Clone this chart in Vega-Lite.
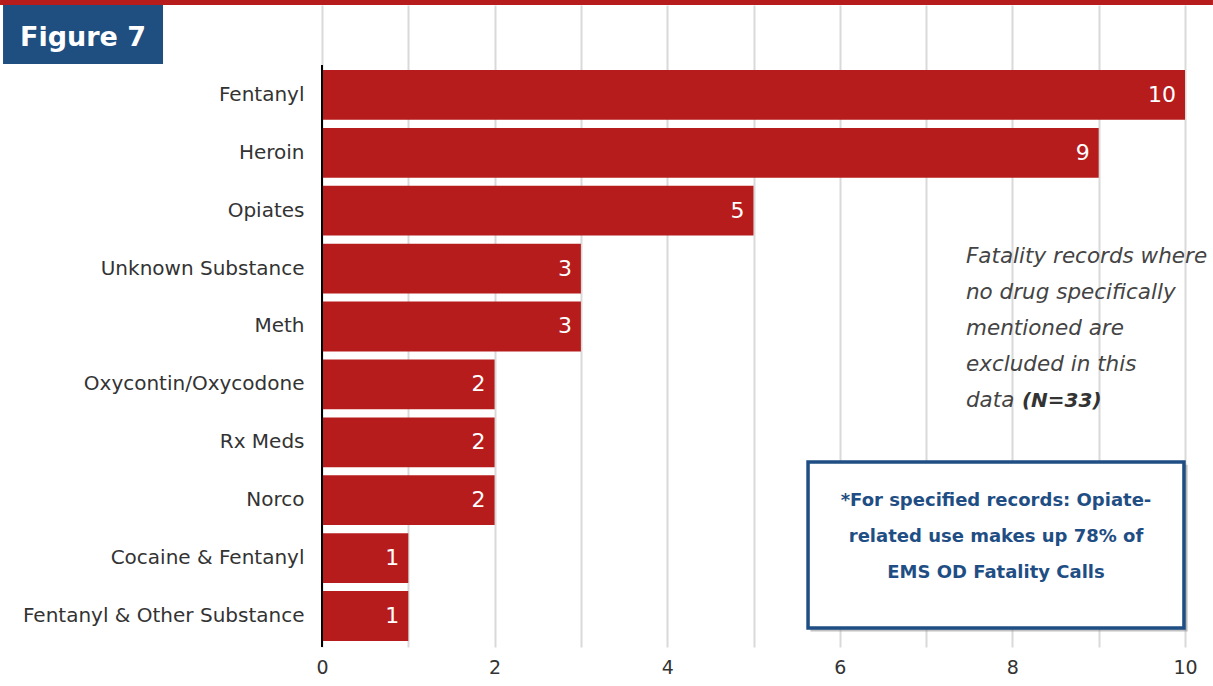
{
  "$schema": "https://vega.github.io/schema/vega-lite/v6.json",
  "width": 863,
  "height": 642,
  "autosize": {"type": "none"},
  "padding": {"left": 322, "top": 5, "right": 28, "bottom": 39},
  "background": "white",
  "config": {"view": {"stroke": null}, "font": "DejaVu Sans"},
  "datasets": {
    "bars": [
      {"substance": "Fentanyl", "count": 10},
      {"substance": "Heroin", "count": 9},
      {"substance": "Opiates", "count": 5},
      {"substance": "Unknown Substance", "count": 3},
      {"substance": "Meth", "count": 3},
      {"substance": "Oxycontin/Oxycodone", "count": 2},
      {"substance": "Rx Meds", "count": 2},
      {"substance": "Norco", "count": 2},
      {"substance": "Cocaine & Fentanyl", "count": 1},
      {"substance": "Fentanyl & Other Substance", "count": 1}
    ],
    "shapes": [
      {"kind": "redline", "x1": -3.731, "x2": 10.324, "y1": -0.78, "y2": 0},
      {"kind": "figbox", "x1": -3.696, "x2": -1.842, "y1": 0, "y2": 9.19},
      {"kind": "shadow", "x1": 5.66, "x2": 10.03, "y1": 71.6, "y2": 97.6},
      {"kind": "notebox", "x1": 5.632, "x2": 9.988, "y1": 71.18, "y2": 97.04}
    ],
    "axisline": [{"x": 0, "y1": 9.35, "y2": 100}],
    "italic": [
      {"text": "Fatality records where", "x": 7.462, "y": 39.25},
      {"text": "no drug specifically", "x": 7.462, "y": 44.86},
      {"text": "mentioned are", "x": 7.462, "y": 50.47},
      {"text": "excluded in this", "x": 7.462, "y": 56.07},
      {"text": "data", "x": 7.462, "y": 61.68}
    ],
    "nbold": [{"text": "(N=33)", "x": 8.111, "y": 61.68}],
    "boxtext": [
      {"text": "*For specified records: Opiate-", "x": 7.81, "y": 77.26},
      {"text": "related use makes up 78% of", "x": 7.81, "y": 82.87},
      {"text": "EMS OD Fatality Calls", "x": 7.81, "y": 88.47}
    ],
    "figtext": [{"text": "Figure 7", "x": -2.769, "y": 5.14}]
  },
  "layer": [
    {
      "data": {"name": "bars"},
      "layer": [
        {
          "mark": {"type": "bar", "color": "#B71C1C"},
          "encoding": {
            "y": {
              "field": "substance", "type": "nominal", "sort": null,
              "scale": {"paddingInner": 0.14, "paddingOuter": 0.614, "align": 0.914},
              "axis": {"title": null, "ticks": false, "domain": false, "labelPadding": 18, "labelFontSize": 20, "labelLimit": 400, "labelColor": "#333333", "labelFont": "DejaVu Sans"}
            },
            "x": {
              "field": "count", "type": "quantitative",
              "scale": {"domain": [0, 10], "nice": false},
              "axis": {"title": null, "values": [0, 1, 2, 3, 4, 5, 6, 7, 8, 9, 10], "format": "d", "labelExpr": "datum.value % 2 == 0 ? datum.label : ''", "labelFlush": false, "ticks": false, "domain": false, "labelPadding": 11, "labelFontSize": 19, "labelColor": "#333333", "labelFont": "DejaVu Sans", "grid": true, "gridColor": "#D9D9D9", "gridWidth": 2}
            }
          }
        },
        {
          "mark": {"type": "text", "align": "right", "baseline": "middle", "dx": -9, "color": "white", "fontSize": 22, "font": "DejaVu Sans"},
          "encoding": {
            "y": {"field": "substance", "type": "nominal", "sort": null},
            "x": {"field": "count", "type": "quantitative"},
            "text": {"field": "count", "type": "quantitative"}
          }
        }
      ]
    },
    {
      "data": {"name": "shapes"},
      "transform": [{"filter": "datum.kind == 'redline'"}],
      "mark": {"type": "rect", "color": "#B71C1C"},
      "encoding": {
        "x": {"field": "x1", "type": "quantitative"},
        "x2": {"field": "x2"},
        "y": {"field": "y1", "type": "quantitative", "scale": {"domain": [0, 100], "reverse": true, "nice": false}, "axis": null},
        "y2": {"field": "y2"}
      }
    },
    {
      "data": {"name": "shapes"},
      "transform": [{"filter": "datum.kind == 'figbox'"}],
      "mark": {"type": "rect", "color": "#1F4E80"},
      "encoding": {
        "x": {"field": "x1", "type": "quantitative"},
        "x2": {"field": "x2"},
        "y": {"field": "y1", "type": "quantitative", "scale": {"domain": [0, 100], "reverse": true, "nice": false}, "axis": null},
        "y2": {"field": "y2"}
      }
    },
    {
      "data": {"name": "shapes"},
      "transform": [{"filter": "datum.kind == 'shadow'"}],
      "mark": {"type": "rect", "color": "#8E8E8E", "opacity": 0.55},
      "encoding": {
        "x": {"field": "x1", "type": "quantitative"},
        "x2": {"field": "x2"},
        "y": {"field": "y1", "type": "quantitative", "scale": {"domain": [0, 100], "reverse": true, "nice": false}, "axis": null},
        "y2": {"field": "y2"}
      }
    },
    {
      "data": {"name": "shapes"},
      "transform": [{"filter": "datum.kind == 'notebox'"}],
      "mark": {"type": "rect", "fill": "white", "stroke": "#1F4E84", "strokeWidth": 3.5},
      "encoding": {
        "x": {"field": "x1", "type": "quantitative"},
        "x2": {"field": "x2"},
        "y": {"field": "y1", "type": "quantitative", "scale": {"domain": [0, 100], "reverse": true, "nice": false}, "axis": null},
        "y2": {"field": "y2"}
      }
    },
    {
      "data": {"name": "axisline"},
      "mark": {"type": "rule", "color": "black", "strokeWidth": 2},
      "encoding": {
        "x": {"field": "x", "type": "quantitative"},
        "y": {"field": "y1", "type": "quantitative", "scale": {"domain": [0, 100], "reverse": true, "nice": false}, "axis": null},
        "y2": {"field": "y2"}
      }
    },
    {
      "data": {"name": "italic"},
      "mark": {"type": "text", "align": "left", "baseline": "middle", "fontSize": 21.5, "fontStyle": "italic", "color": "#444444", "font": "DejaVu Sans"},
      "encoding": {
        "x": {"field": "x", "type": "quantitative"},
        "y": {"field": "y", "type": "quantitative", "scale": {"domain": [0, 100], "reverse": true, "nice": false}, "axis": null},
        "text": {"field": "text"}
      }
    },
    {
      "data": {"name": "nbold"},
      "mark": {"type": "text", "align": "left", "baseline": "middle", "fontSize": 20, "fontStyle": "italic", "fontWeight": "bold", "color": "#333333", "font": "DejaVu Sans"},
      "encoding": {
        "x": {"field": "x", "type": "quantitative"},
        "y": {"field": "y", "type": "quantitative", "scale": {"domain": [0, 100], "reverse": true, "nice": false}, "axis": null},
        "text": {"field": "text"}
      }
    },
    {
      "data": {"name": "boxtext"},
      "mark": {"type": "text", "align": "center", "baseline": "middle", "fontSize": 18, "fontWeight": "bold", "color": "#1F4E84", "font": "DejaVu Sans"},
      "encoding": {
        "x": {"field": "x", "type": "quantitative"},
        "y": {"field": "y", "type": "quantitative", "scale": {"domain": [0, 100], "reverse": true, "nice": false}, "axis": null},
        "text": {"field": "text"}
      }
    },
    {
      "data": {"name": "figtext"},
      "mark": {"type": "text", "align": "center", "baseline": "middle", "fontSize": 27, "fontWeight": "bold", "color": "white", "font": "DejaVu Sans"},
      "encoding": {
        "x": {"field": "x", "type": "quantitative"},
        "y": {"field": "y", "type": "quantitative", "scale": {"domain": [0, 100], "reverse": true, "nice": false}, "axis": null},
        "text": {"field": "text"}
      }
    }
  ],
  "resolve": {"scale": {"y": "independent"}}
}
